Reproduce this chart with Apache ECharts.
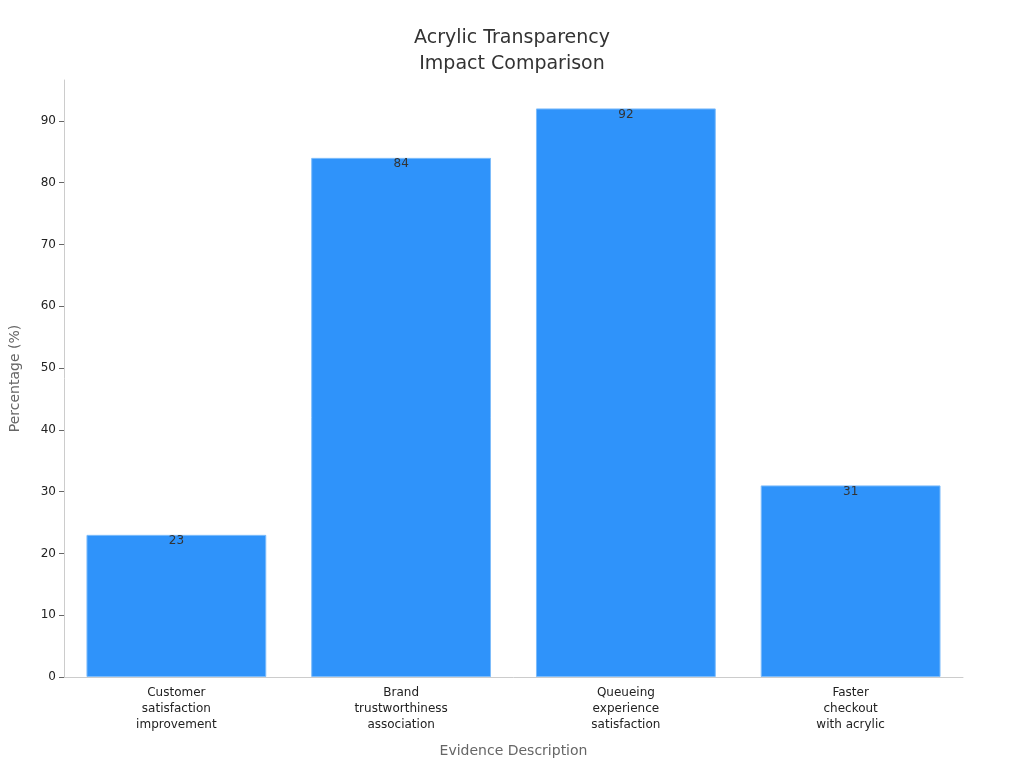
<!DOCTYPE html>
<html><head><meta charset="utf-8">
<script src="https://cdn.jsdelivr.net/npm/echarts@6/dist/echarts.min.js"></script>
<style>html,body{margin:0;padding:0;background:#fff}#c{width:1024px;height:768px}</style>
</head><body><div id="c"></div>
<script>
const categories = ["Customer\nsatisfaction\nimprovement","Brand\ntrustworthiness\nassociation","Queueing\nexperience\nsatisfaction","Faster\ncheckout\nwith acrylic"];
const values = [23, 84, 92, 31];
const chart = echarts.init(document.getElementById('c'));
chart.setOption({
  title:{text:"Acrylic Transparency\nImpact Comparison",left:'center',top:20,textStyle:{fontFamily:'DejaVu Sans',fontSize:19,fontWeight:'normal',color:'#333',lineHeight:26}},
  grid:{left:60,right:61,top:80,bottom:91},
  xAxis:{type:'category',data:categories,name:'Evidence Description',nameLocation:'middle',nameGap:67,
    nameTextStyle:{fontFamily:'DejaVu Sans',fontSize:14,color:'#666'},
    axisLine:{lineStyle:{color:'#ccc'}},axisTick:{alignWithLabel:true,lineStyle:{color:'#666'}},
    axisLabel:{fontFamily:'DejaVu Sans',fontSize:12,color:'#222',lineHeight:16}},
  yAxis:{type:'value',min:0,max:96.6,interval:10,name:'Percentage (%)',nameLocation:'middle',nameGap:42,
    nameTextStyle:{fontFamily:'DejaVu Sans',fontSize:14,color:'#666'},
    axisLine:{show:true,lineStyle:{color:'#ccc'}},axisTick:{show:true,lineStyle:{color:'#666'}},splitLine:{show:false},
    axisLabel:{fontFamily:'DejaVu Sans',fontSize:12,color:'#222',showMaxLabel:false}},
  series:[{type:'bar',data:values,barCategoryGap:'20%',
    itemStyle:{color:'#2f93fa',borderColor:'#7dbcfb',borderWidth:1},
    label:{show:true,position:'insideTop',offset:[0,-5],color:'#333',fontFamily:'DejaVu Sans',fontSize:12}}]
});
</script></body></html>
